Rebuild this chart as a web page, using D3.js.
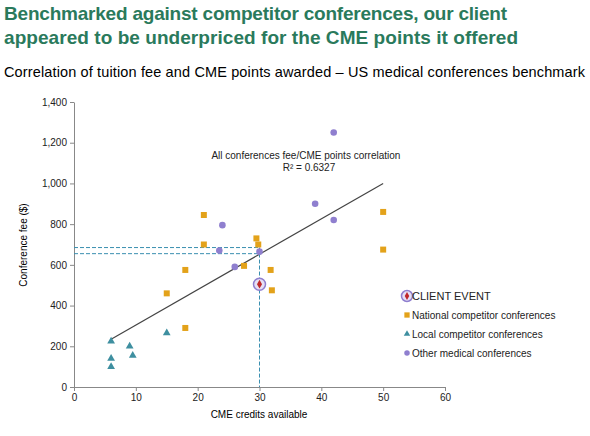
<!DOCTYPE html><html><head><script src="https://cdn.jsdelivr.net/npm/d3@7"></script>
<style>body{margin:0;background:#fff;font-family:Arial,"Liberation Sans",sans-serif}</style></head><body><svg id="c" width="590" height="436"></svg><script>
const national=[[21,845],[21,700],[18,575],[15,460],[18,290],[27.5,595],[29.5,730],[29.8,700],[31.8,575],[32,475],[50,860],[50,675]];
const local=[[6,225],[6,140],[6,100],[9,200],[9.5,155],[15,265]];
const other=[[42,1250],[39,900],[42,820],[24,795],[23.5,670],[26,590],[30,665]];
const client=[[30,505]];
const trend=[[6,235],[50,1000]];
const xTicks=[0,10,20,30,40,50,60], yTicks=[0,200,400,600,800,1000,1200,1400];
const svg=d3.select("#c");
svg.append("text").attr("x",4).attr("y",20).attr("fill","#2a7a5c").attr("font-size",19).attr("font-weight","bold").attr("textLength",503).text("Benchmarked against competitor conferences, our client");
svg.append("text").attr("x",4).attr("y",44).attr("fill","#2a7a5c").attr("font-size",19).attr("font-weight","bold").attr("textLength",514).text("appeared to be underpriced for the CME points it offered");
svg.append("text").attr("x",4).attr("y",77).attr("fill","#000").attr("font-size",14.5).attr("textLength",581).text("Correlation of tuition fee and CME points awarded – US medical conferences benchmark");
const x=d3.scaleLinear().domain([0,60]).range([74,445]);
const y=d3.scaleLinear().domain([0,1400]).range([387,102]);
const gx=svg.append("g").attr("transform","translate(0,387)").call(d3.axisBottom(x).tickValues(xTicks).tickSize(4).tickSizeOuter(0));
const gy=svg.append("g").attr("transform","translate(74,0)").call(d3.axisLeft(y).tickValues(yTicks).tickFormat(d3.format(",")).tickSize(4).tickSizeOuter(0));
[gx,gy].forEach(g=>{g.selectAll("path,line").attr("stroke","#888");g.selectAll("text").attr("font-size",10).attr("fill","#222");});
svg.append("text").attr("x",259).attr("y",418).attr("text-anchor","middle").attr("font-size",10).text("CME credits available");
svg.append("text").attr("transform","translate(27,245) rotate(-90)").attr("text-anchor","middle").attr("font-size",10).text("Conference fee ($)");
const dash="4,2", dc="#3a8fb0";
[685,655].forEach(v=>svg.append("line").attr("x1",x(0)).attr("x2",x(30)).attr("y1",y(v)).attr("y2",y(v)).attr("stroke",dc).attr("stroke-dasharray",dash));
svg.append("line").attr("x1",x(30)).attr("x2",x(30)).attr("y1",y(685)).attr("y2",y(0)).attr("stroke",dc).attr("stroke-dasharray",dash);
svg.append("line").attr("x1",x(trend[0][0])).attr("y1",y(trend[0][1])).attr("x2",x(trend[1][0])).attr("y2",y(trend[1][1])).attr("stroke","#444").attr("stroke-width",1.2);
svg.append("text").attr("x",x(37.5)).attr("y",y(1120)).attr("text-anchor","middle").attr("font-size",10).attr("fill","#222").text("All conferences fee/CME points correlation");
svg.append("text").attr("x",x(38)).attr("y",y(1060)).attr("text-anchor","middle").attr("font-size",10).attr("fill","#222").text("R² = 0.6327");
const sq=d3.symbol(d3.symbolSquare,36), tri=d3.symbol(d3.symbolTriangle,26), cir=d3.symbol(d3.symbolCircle,34);
svg.selectAll(".n").data(national).join("path").attr("d",sq).attr("fill","#e3a21a").attr("transform",d=>`translate(${x(d[0])},${y(d[1])})`);
svg.selectAll(".l").data(local).join("path").attr("d",tri).attr("fill","#3e8fa0").attr("transform",d=>`translate(${x(d[0])},${y(d[1])})`);
svg.selectAll(".o").data(other).join("path").attr("d",cir).attr("fill","#8f7fcf").attr("transform",d=>`translate(${x(d[0])},${y(d[1])})`);
client.forEach(d=>{svg.append("circle").attr("cx",x(d[0])).attr("cy",y(d[1])).attr("r",6).attr("fill","#e6e0f5").attr("stroke","#8f7fcf").attr("stroke-width",1.5);
svg.append("path").attr("d",d3.symbol(d3.symbolDiamond,22)).attr("fill","#c0282a").attr("transform",`translate(${x(d[0])},${y(d[1])})`);});
const lg=[["CLIENT EVENT","c"],["National competitor conferences","n"],["Local competitor conferences","l"],["Other medical conferences","o"]];
lg.forEach((e,i)=>{const ly=296+i*19,lx=407;
 if(e[1]=="c"){svg.append("circle").attr("cx",lx).attr("cy",ly).attr("r",5.5).attr("fill","#e6e0f5").attr("stroke","#8f7fcf").attr("stroke-width",1.5);svg.append("path").attr("d",d3.symbol(d3.symbolDiamond,18)).attr("fill","#c0282a").attr("transform",`translate(${lx},${ly})`);}
 if(e[1]=="n")svg.append("path").attr("d",d3.symbol(d3.symbolSquare,28)).attr("fill","#e3a21a").attr("transform",`translate(${lx},${ly})`);
 if(e[1]=="l")svg.append("path").attr("d",d3.symbol(d3.symbolTriangle,18)).attr("fill","#3e8fa0").attr("transform",`translate(${lx},${ly})`);
 if(e[1]=="o")svg.append("path").attr("d",d3.symbol(d3.symbolCircle,24)).attr("fill","#8f7fcf").attr("transform",`translate(${lx},${ly})`);
 svg.append("text").attr("x",lx+5).attr("y",ly+4).attr("font-size",e[1]=="c"?11:10).attr("fill","#222").text(e[0]);});
</script></body></html>
